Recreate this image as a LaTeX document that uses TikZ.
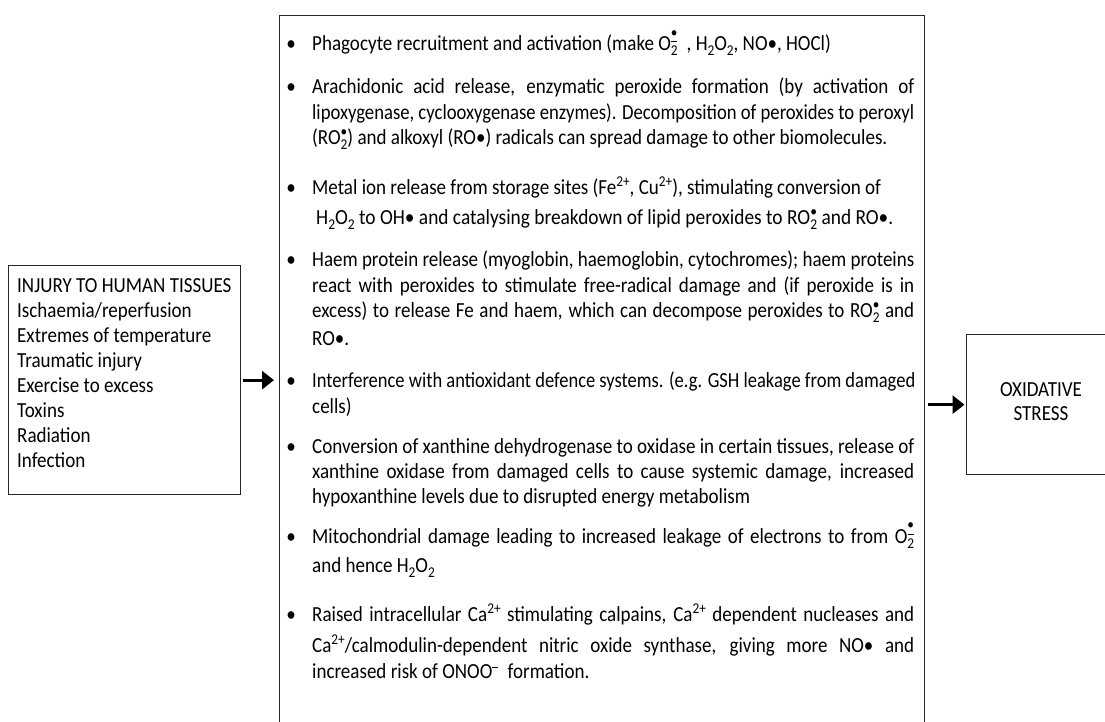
\documentclass[tikz,border=0pt]{standalone}
\usepackage{fontspec}
\setmainfont{Carlito}[FakeStretch=0.885]
\usetikzlibrary{arrows.meta}
\newcommand\mainsz{\fontsize{21.5pt}{25pt}\selectfont}
\newcommand\smsz{\fontsize{15pt}{15pt}\selectfont}
\newcommand\sups[1]{\raisebox{0.75ex}{\smsz #1}}
\newcommand\subs[1]{\raisebox{-0.5ex}{\smsz #1}}
\newcommand\stk[2]{\setbox0\hbox{\subs{#1}}\setbox2\hbox{\sups{#2}}\ifdim\wd0>\wd2 \rlap{\box2}\box0 \else\rlap{\box0}\box2 \fi}
\newcommand\dm{\ooalign{\hfil\raisebox{0.75ex}{\textbullet}\hfil\cr\hfil\rule[0.05ex]{0.42em}{1.1pt}\hfil\cr}}
\newcommand\jl[1]{\setbox4\hbox{#1}\ifdim\wd4>598pt \resizebox{602pt}{\height}{\box4}\else\makebox[602pt][s]{#1}\fi}
\tikzset{
  box/.style={draw=black!85, line width=1.3pt, inner sep=0pt, anchor=north west},
  txt/.style={anchor=base west, inner sep=0pt, font=\mainsz},
  ctxt/.style={anchor=base, inner sep=0pt, font=\mainsz},
  bul/.style={anchor=base, inner sep=0pt, font=\mainsz},
  arr/.style={line width=3pt, -{Triangle[length=12pt,width=18pt]}}
}
\begin{document}
\begin{tikzpicture}[x=1pt,y=-1pt]
\useasboundingbox (0,0) rectangle (1105,722);
\clip (0,0) rectangle (1105,722);
\fill[white] (0,0) rectangle (1105,722);
% boxes
\node[box, minimum width=232pt, minimum height=229pt] (L) at (8,265) {};
\node[box, minimum width=645pt, minimum height=730pt] (C) at (279,15) {};
\node[box, minimum width=160pt, minimum height=140pt] (R) at (966,334) {};
% left text
\node[txt] (l1) at (17,292.5) {INJURY TO HUMAN TISSUES};
\node[txt] (l2) at (17,317.5) {Ischaemia/reperfusion};
\node[txt] (l3) at (17,342.5) {Extremes of temperature};
\node[txt] (l4) at (17,367.5) {Traumatic injury};
\node[txt] (l5) at (17,392.5) {Exercise to excess};
\node[txt] (l6) at (17,417) {Toxins};
\node[txt] (l7) at (17,442.5) {Radiation};
\node[txt] (l8) at (17,467.5) {Infection};
% right text
\node[ctxt] (r1) at (1041,396) {OXIDATIVE};
\node[ctxt] (r2) at (1041,420) {STRESS};
% bullets
\foreach \n/\y in {1/50.5,2/93.5,3/194.5,4/266.5,5/387,6/453.5,7/543,8/621}
  \node[bul] (b\n) at (291,\y) {\textbullet};
% paragraph 1
\node[txt] (p1a) at (312,50.5) {Phagocyte recruitment and activation (make O\stk{2}{\dm}\hspace{9pt}, H\subs{2}O\subs{2}, NO\textbullet, HOCl)};
% paragraph 2
\node[txt] (p2a) at (312,93.5) {\jl{Arachidonic acid release, enzymatic peroxide formation (by activation of}};
\node[txt] (p2b) at (312,119.5) {\jl{lipoxygenase, cyclooxygenase enzymes). Decomposition of peroxides to peroxyl}};
\node[txt] (p2c) at (312,144.5) {(RO\stk{2}{\textbullet}) and alkoxyl (RO\textbullet) radicals can spread damage to other biomolecules.};
% paragraph 3
\node[txt] (p3a) at (312,194.5) {Metal ion release from storage sites (Fe\sups{2+}, Cu\sups{2+}), stimulating conversion of};
\node[txt] (p3b) at (316,224.5) {\resizebox{577pt}{\height}{H\subs{2}O\subs{2} to OH\textbullet{} and catalysing breakdown of lipid peroxides to RO\stk{2}{\textbullet} and RO\textbullet.}};
% paragraph 4
\node[txt] (p4a) at (312,266.5) {\jl{Haem protein release (myoglobin, haemoglobin, cytochromes); haem proteins}};
\node[txt] (p4b) at (312,292) {\jl{react with peroxides to stimulate free-radical damage and (if peroxide is in}};
\node[txt] (p4c) at (312,317.5) {\jl{excess) to release Fe and haem, which can decompose peroxides to RO\stk{2}{\textbullet} and}};
\node[txt] (p4d) at (312,345) {RO\textbullet.};
% paragraph 5
\node[txt] (p5a) at (312,387) {\resizebox{603pt}{\height}{Interference with antioxidant defence systems. (e.g. GSH leakage from damaged}};
\node[txt] (p5b) at (312,413) {cells)};
% paragraph 6
\node[txt] (p6a) at (312,453.5) {\jl{Conversion of xanthine dehydrogenase to oxidase in certain tissues, release of}};
\node[txt] (p6b) at (312,478.5) {\jl{xanthine oxidase from damaged cells to cause systemic damage, increased}};
\node[txt] (p6c) at (312,503.5) {hypoxanthine levels due to disrupted energy metabolism};
% paragraph 7
\node[txt] (p7a) at (312,543) {\jl{Mitochondrial damage leading to increased leakage of electrons to from O\stk{2}{\dm}}};
\node[txt] (p7b) at (312,572) {and hence H\subs{2}O\subs{2}};
% paragraph 8
\node[txt] (p8a) at (312,621) {\jl{Raised intracellular Ca\sups{2+} stimulating calpains, Ca\sups{2+} dependent nucleases and}};
\node[txt] (p8b) at (312,652) {\jl{Ca\sups{2+}/calmodulin-dependent nitric oxide synthase, giving more NO\textbullet{} and}};
\node[txt] (p8c) at (312,678) {increased risk of ONOO\sups{\rule[0.3ex]{0.4em}{0.1ex}}\hspace{5pt} formation.};
% arrows
\draw[arr, shorten <=2pt, shorten >=5pt] (L.east) -- (L.east -| C.west);
\draw[arr, shorten <=3pt, shorten >=1.5pt] (R.west -| C.east) -- (R.west);
\end{tikzpicture}
\end{document}
